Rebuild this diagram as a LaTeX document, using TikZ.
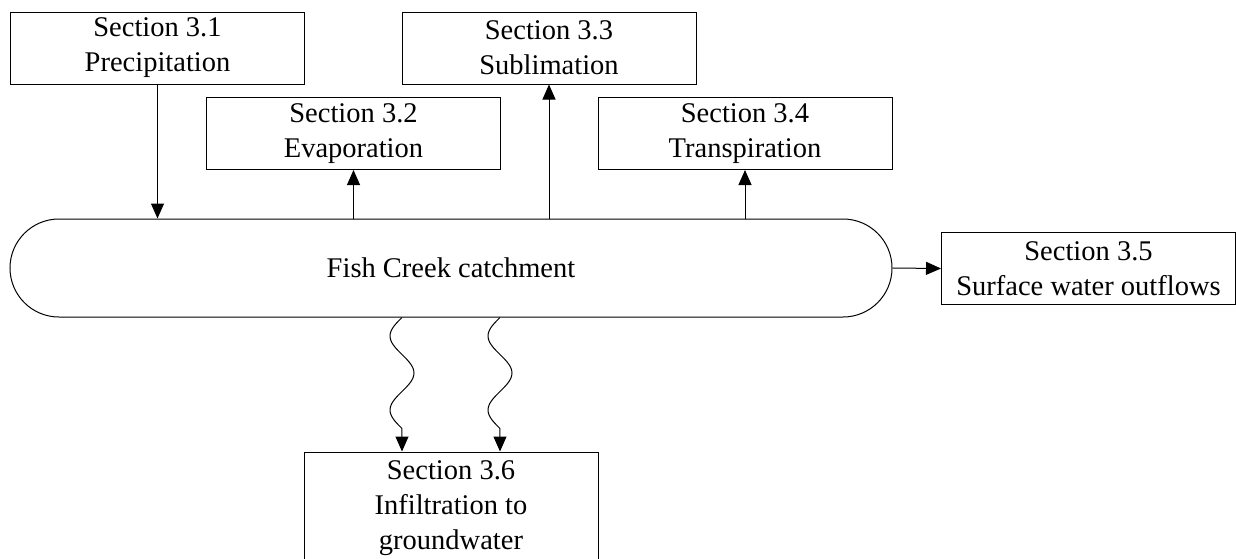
\documentclass[tikz,border=0pt]{standalone}
\usepackage{fontspec}
\setmainfont{Liberation Serif}
\usetikzlibrary{arrows.meta, shapes.misc}

\tikzset{
  secbox/.style={draw, line width=0.5pt, minimum width=147pt, minimum height=36pt,
    inner sep=0pt, align=center, font=\fontsize{14.25pt}{17.5pt}\selectfont},
  flow/.style={line width=0.5pt, -{Triangle[length=7.5pt,width=6.5pt]}}
}

\begin{document}
\begin{tikzpicture}[x=0.5pt,y=-0.5pt]
  \useasboundingbox (0,0) rectangle (1236,558);
  % catchment
  \node[draw, rounded rectangle, line width=0.5pt, minimum width=441pt, minimum height=49pt,
    inner sep=0pt, font=\fontsize{14.25pt}{17.5pt}\selectfont] (catch) at (451,268) {Fish Creek catchment};
  % sections
  \node[secbox] (prec) at (157.5,48) {Section 3.1\\Precipitation};
  \node[secbox] (evap) at (353.5,133.5) {Section 3.2\\Evaporation};
  \node[secbox] (subl) at (549,48) {Section 3.3\\Sublimation};
  \node[secbox] (tran) at (745,133.5) {Section 3.4\\Transpiration};
  \node[secbox] (outf) at (1088.5,268.5) {Section 3.5\\Surface water outflows};
  \node[secbox, minimum height=56pt] (infl) at (451,508) {Section 3.6\\Infiltration to\\groundwater};
  % fluxes
  \draw[flow] (prec) -- (prec |- catch.north);
  \draw[flow] (evap |- catch.north) -- (evap);
  \draw[flow] (subl |- catch.north) -- (subl);
  \draw[flow] (tran |- catch.north) -- (tran);
  \draw[flow] (catch.east) -- (outf.west);
  % infiltration
  \coordinate (w1) at ([xshift=-24.5pt]catch.south);
  \coordinate (w2) at ([xshift=24.5pt]catch.south);
  \draw[flow, shift={(w1)}] (0,0) -- plot[domain=0:1.5, samples=41, smooth] ({-12*sin(\x*360)},{74*\x}) -- (infl.north -| w1);
  \draw[flow, shift={(w2)}] (0,0) -- plot[domain=0:1.5, samples=41, smooth] ({-12*sin(\x*360)},{74*\x}) -- (infl.north -| w2);
\end{tikzpicture}
\end{document}
